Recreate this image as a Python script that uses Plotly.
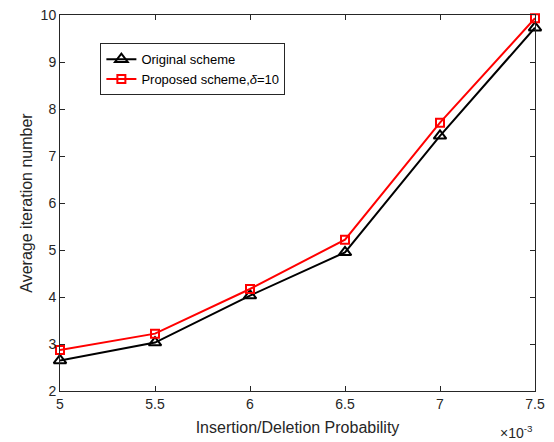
import plotly.graph_objects as go

x_vals = [5, 5.5, 6, 6.5, 7, 7.5]
original = [2.65, 3.03, 4.03, 4.95, 7.43, 9.73]
proposed = [2.87, 3.22, 4.17, 5.22, 7.71, 9.93]
x_ticks = [5, 5.5, 6, 6.5, 7, 7.5]
y_ticks = [2, 3, 4, 5, 6, 7, 8, 9, 10]

FONT = "Liberation Sans, Arial"
fig = go.Figure()
fig.add_trace(go.Scatter(
    x=x_vals, y=original, mode="lines+markers", name="Original scheme",
    line=dict(color="black", width=2), cliponaxis=False,
    marker=dict(symbol="triangle-up-open", size=11, color="black", line=dict(width=2)),
))
fig.add_trace(go.Scatter(
    x=x_vals, y=proposed, mode="lines+markers", name="Proposed scheme,<i>δ</i>=10",
    line=dict(color="#ff0000", width=2), cliponaxis=False,
    marker=dict(symbol="square-open", size=8, color="#ff0000", line=dict(width=2)),
))

axis_common = dict(
    showgrid=False, zeroline=False, showline=True, linecolor="#262626", linewidth=1,
    mirror="ticks", ticks="inside", ticklen=5, tickcolor="#262626", automargin=False,
    tickfont=dict(family=FONT, size=14, color="#262626"),
)
fig.update_xaxes(range=[5, 7.5], tickvals=x_ticks, ticktext=[str(v) for v in x_ticks],
                 title=dict(text="Insertion/Deletion Probability", standoff=11,
                            font=dict(family=FONT, size=16, color="#262626")),
                 **axis_common)
fig.update_yaxes(range=[2, 10], tickvals=y_ticks,
                 title=dict(text="Average iteration number", standoff=4,
                            font=dict(family=FONT, size=16, color="#262626")),
                 **axis_common)

fig.add_annotation(x=1, y=-0.08, xref="paper", yref="paper", xanchor="right", yanchor="top",
                   text="×10<sup>-3</sup>", showarrow=False,
                   font=dict(family=FONT, size=14, color="#262626"))

fig.update_layout(
    width=554, height=442,
    margin=dict(l=60, r=19, t=15, b=51),
    paper_bgcolor="white", plot_bgcolor="white",
    legend=dict(x=0.085, y=0.925, xanchor="left", yanchor="top",
                bordercolor="#262626", borderwidth=1, bgcolor="white",
                font=dict(family=FONT, size=13, color="black"),
                tracegroupgap=0, itemwidth=30),
    showlegend=True,
)

fig.write_html("out.html")
